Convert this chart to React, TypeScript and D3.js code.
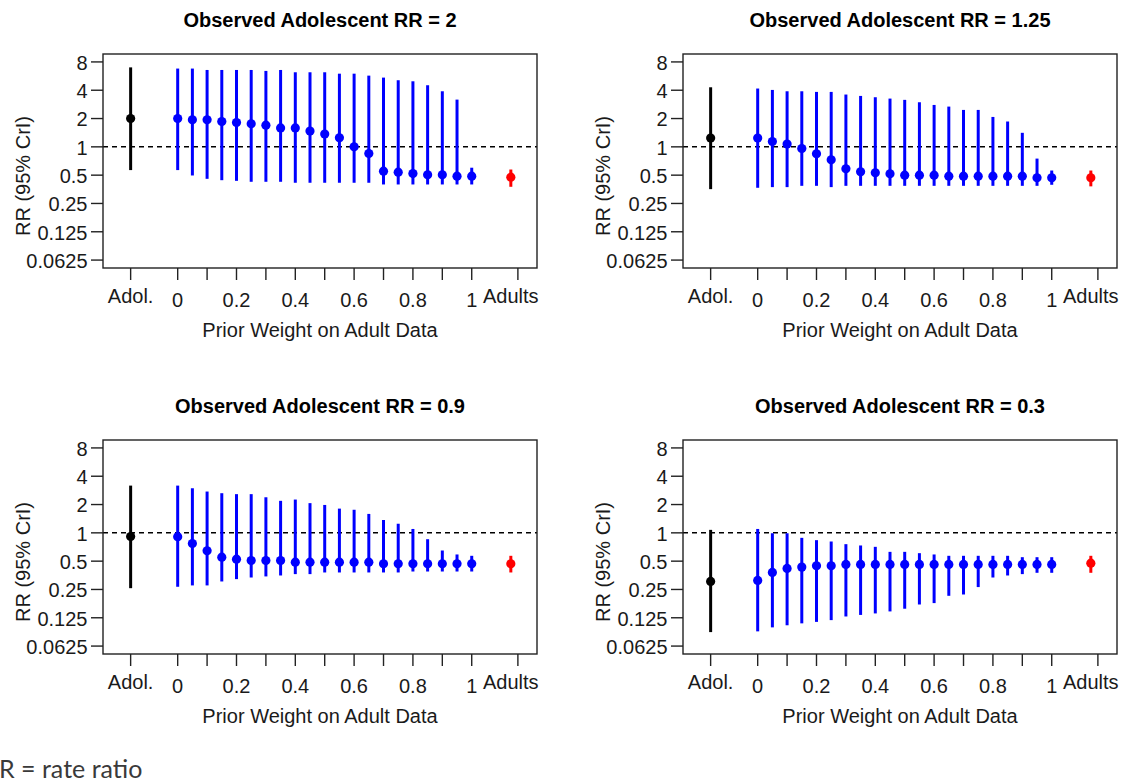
import React from "react";
import * as d3 from "d3";

// ---- Data ----
const WEIGHTS = [0, 0.05, 0.1, 0.15, 0.2, 0.25, 0.3, 0.35, 0.4, 0.45, 0.5, 0.55, 0.6, 0.65, 0.7, 0.75, 0.8, 0.85, 0.9, 0.95, 1];
const Y_TICKS = [8, 4, 2, 1, 0.5, 0.25, 0.125, 0.0625];
const Y_TICK_LABELS = ["8", "4", "2", "1", "0.5", "0.25", "0.125", "0.0625"];
const X_TICKS = [0, 0.1, 0.2, 0.3, 0.4, 0.5, 0.6, 0.7, 0.8, 0.9, 1];
const X_LABELS = [0, 0.2, 0.4, 0.6, 0.8, 1];
const X_LABEL_TEXT = ["0", "0.2", "0.4", "0.6", "0.8", "1"];
const ADOL_POS = -0.16;
const ADULT_POS = 1.133;
const ADULT_TICK = 1.157;

const TITLES = [
  "Observed Adolescent RR = 2",
  "Observed Adolescent RR = 1.25",
  "Observed Adolescent RR = 0.9",
  "Observed Adolescent RR = 0.3",
];

// Adolescent observed [estimate, lower, upper]
const ADOL = [
  [2.0, 0.566, 7.0],
  [1.24, 0.355, 4.3],
  [0.914, 0.258, 3.18],
  [0.304, 0.088, 1.076],
];
// Adults [estimate, lower, upper]
const ADULTS = [
  [0.476, 0.376, 0.574],
  [0.469, 0.38, 0.56],
  [0.469, 0.379, 0.57],
  [0.476, 0.376, 0.57],
];

const MID_1 = [2.0, 1.94, 1.94, 1.86, 1.81, 1.76, 1.7, 1.59, 1.59, 1.47, 1.37, 1.25, 1.0, 0.85, 0.551, 0.538, 0.52, 0.504, 0.504, 0.488, 0.488];
const HI_1 = [6.8, 6.8, 6.57, 6.57, 6.57, 6.57, 6.42, 6.57, 6.21, 6.21, 6.21, 6.0, 6.0, 5.72, 5.45, 5.11, 4.98, 4.52, 3.9, 3.18, 0.6];
const LO_1 = [0.566, 0.496, 0.457, 0.442, 0.435, 0.425, 0.425, 0.425, 0.415, 0.415, 0.415, 0.415, 0.415, 0.415, 0.398, 0.398, 0.398, 0.398, 0.398, 0.398, 0.398];

const MID_2 = [1.24, 1.14, 1.07, 0.96, 0.843, 0.727, 0.584, 0.543, 0.53, 0.517, 0.5, 0.5, 0.5, 0.488, 0.488, 0.488, 0.488, 0.488, 0.488, 0.469, 0.469];
const HI_2 = [4.17, 4.03, 3.9, 3.9, 3.84, 3.84, 3.6, 3.48, 3.37, 3.26, 3.16, 2.98, 2.79, 2.68, 2.47, 2.47, 2.08, 1.86, 1.41, 0.75, 0.56];
const LO_2 = [0.367, 0.373, 0.373, 0.385, 0.385, 0.373, 0.385, 0.385, 0.385, 0.385, 0.385, 0.385, 0.385, 0.385, 0.385, 0.385, 0.385, 0.385, 0.385, 0.385, 0.395];

const MID_3 = [0.91, 0.77, 0.644, 0.551, 0.525, 0.508, 0.508, 0.508, 0.488, 0.488, 0.488, 0.488, 0.488, 0.488, 0.469, 0.469, 0.469, 0.469, 0.469, 0.469, 0.469];
const HI_3 = [3.18, 2.98, 2.75, 2.64, 2.58, 2.58, 2.39, 2.19, 2.26, 2.07, 1.98, 1.81, 1.76, 1.59, 1.37, 1.25, 1.1, 0.856, 0.649, 0.589, 0.57];
const LO_3 = [0.267, 0.276, 0.276, 0.304, 0.322, 0.335, 0.344, 0.352, 0.364, 0.364, 0.379, 0.379, 0.379, 0.379, 0.379, 0.379, 0.388, 0.388, 0.388, 0.388, 0.388];

const MID_4 = [0.312, 0.379, 0.418, 0.432, 0.446, 0.446, 0.461, 0.461, 0.461, 0.461, 0.461, 0.461, 0.461, 0.461, 0.461, 0.461, 0.461, 0.461, 0.461, 0.461, 0.461];
const HI_4 = [1.1, 0.99, 0.99, 0.885, 0.836, 0.809, 0.758, 0.734, 0.71, 0.628, 0.628, 0.608, 0.589, 0.57, 0.57, 0.57, 0.57, 0.57, 0.551, 0.551, 0.551];
const LO_4 = [0.0896, 0.0988, 0.104, 0.109, 0.113, 0.118, 0.129, 0.134, 0.139, 0.146, 0.156, 0.173, 0.179, 0.214, 0.221, 0.265, 0.335, 0.352, 0.364, 0.376, 0.376];

const MIDS = [MID_1, MID_2, MID_3, MID_4];
const HIS = [HI_1, HI_2, HI_3, HI_4];
const LOS = [LO_1, LO_2, LO_3, LO_4];

// ---- Layout ----
const W = 1123;
const H = 783;
const COL_X = [103, 683];
const ROW_Y = [54, 440];
const BOX_W = 434;
const BOX_H = 214;
const FONT = "'Liberation Sans', Arial, sans-serif";
const TXT = "#1a1a1a";

function Panel({ idx }: { idx: number }) {
  const x0 = COL_X[idx % 2];
  const y0 = ROW_Y[Math.floor(idx / 2)];
  const x = d3.scaleLinear().domain([-0.254, 1.222]).range([x0, x0 + BOX_W]);
  const y = d3
    .scaleLog()
    .base(2)
    .domain([Math.pow(2, -4.28), Math.pow(2, 3.28)])
    .range([y0 + BOX_H, y0]);
  const yb = y0 + BOX_H;
  const mids = MIDS[idx];
  const his = HIS[idx];
  const los = LOS[idx];
  const adol = ADOL[idx];
  const ad = ADULTS[idx];
  const allTicks = [ADOL_POS, ...X_TICKS, ADULT_TICK];
  return (
    <g>
      <text
        x={x0 + BOX_W / 2}
        y={y0 - 27}
        textAnchor="middle"
        fontFamily={FONT}
        fontWeight="bold"
        fontSize={20}
        fill="#000"
      >
        {TITLES[idx]}
      </text>
      {/* y axis */}
      {Y_TICKS.map((t, i) => (
        <g key={"yt" + i}>
          <line x1={x0 - 12} x2={x0} y1={y(t)} y2={y(t)} stroke="#222" strokeWidth={1.4} />
          <text
            x={x0 - 15.5}
            y={y(t) + 7.8}
            textAnchor="end"
            fontFamily={FONT}
            fontSize={20}
            fill={TXT}
          >
            {Y_TICK_LABELS[i]}
          </text>
        </g>
      ))}
      <text
        transform={`translate(${x0 - 73},${y0 + 122}) rotate(-90)`}
        textAnchor="middle"
        fontFamily={FONT}
        fontSize={20}
        fill={TXT}
      >
        RR (95% CrI)
      </text>
      {/* x axis */}
      {allTicks.map((t, i) => (
        <line key={"xt" + i} x1={x(t)} x2={x(t)} y1={yb} y2={yb + 12} stroke="#222" strokeWidth={1.4} />
      ))}
      {X_LABELS.map((t, i) => (
        <text
          key={"xl" + i}
          x={x(t)}
          y={yb + 38.7}
          textAnchor="middle"
          fontFamily={FONT}
          fontSize={20}
          fill={TXT}
        >
          {X_LABEL_TEXT[i]}
        </text>
      ))}
      <text x={x(ADOL_POS)} y={yb + 35.3} textAnchor="middle" fontFamily={FONT} fontSize={20} fill={TXT}>
        Adol.
      </text>
      <text x={x(ADULT_POS)} y={yb + 35.3} textAnchor="middle" fontFamily={FONT} fontSize={20} fill={TXT}>
        Adults
      </text>
      <text
        x={x0 + BOX_W / 2}
        y={yb + 68.7}
        textAnchor="middle"
        fontFamily={FONT}
        fontSize={20}
        fill={TXT}
      >
        Prior Weight on Adult Data
      </text>
      {/* reference line */}
      <line
        x1={x0}
        x2={x0 + BOX_W}
        y1={y(1)}
        y2={y(1)}
        stroke="#000"
        strokeWidth={1.5}
        strokeDasharray="5,4"
      />
      {/* adolescent */}
      <line x1={x(ADOL_POS)} x2={x(ADOL_POS)} y1={y(adol[1])} y2={y(adol[2])} stroke="#000" strokeWidth={3} />
      <circle cx={x(ADOL_POS)} cy={y(adol[0])} r={4.6} fill="#000" />
      {/* weighted estimates */}
      {WEIGHTS.map((w, i) => (
        <g key={"p" + i}>
          <line x1={x(w)} x2={x(w)} y1={y(los[i])} y2={y(his[i])} stroke="#0000ff" strokeWidth={3} />
          <circle cx={x(w)} cy={y(mids[i])} r={4.6} fill="#0000ff" />
        </g>
      ))}
      {/* adults */}
      <line x1={x(ADULT_POS)} x2={x(ADULT_POS)} y1={y(ad[1])} y2={y(ad[2])} stroke="#ff0000" strokeWidth={3} />
      <circle cx={x(ADULT_POS)} cy={y(ad[0])} r={4.6} fill="#ff0000" />
      {/* box */}
      <rect x={x0} y={y0} width={BOX_W} height={BOX_H} fill="none" stroke="#222" strokeWidth={1.4} />
    </g>
  );
}

export default function App() {
  return (
    <div>
      <style>{`body{margin:0;}`}</style>
      <svg width={W} height={H} style={{ display: "block", background: "#fff" }}>
        <rect x={0} y={0} width={W} height={H} fill="#fff" />
        {[0, 1, 2, 3].map((i) => (
          <Panel key={i} idx={i} />
        ))}
        <text x={-1} y={778} fontFamily="Lato, 'Open Sans', sans-serif" fontSize={25} fill="#3a3a3a">
          R = rate ratio
        </text>
      </svg>
    </div>
  );
}
